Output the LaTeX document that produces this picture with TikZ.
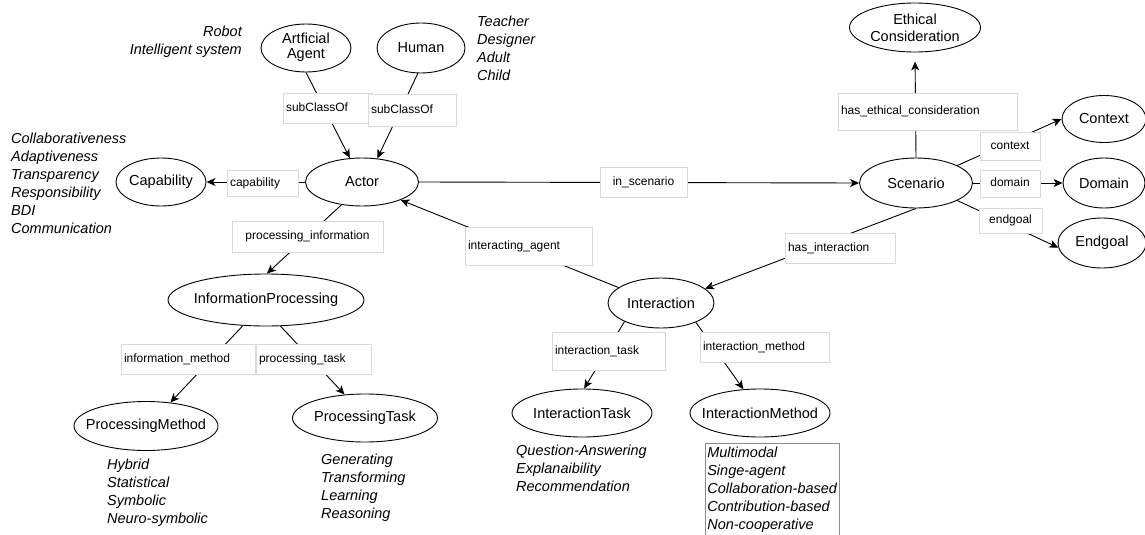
\documentclass[tikz,border=0pt]{standalone}
\usepackage{fontspec}
\setmainfont{Liberation Sans}
\usetikzlibrary{shapes.geometric,arrows.meta}
\newcommand\entfont{\fontsize{14.5}{17}\selectfont}
\newcommand\relfont{\fontsize{12}{14}\selectfont}
\newcommand\listfont{\fontsize{14.5}{18}\selectfont\itshape}
\newcommand\ztext[1]{\makebox[0pt]{#1}}
\begin{document}
\begin{tikzpicture}[x=1pt,y=-1pt,
  ent/.style 2 args={ellipse, draw, line width=0.9pt, inner sep=0pt, font=\entfont,
    minimum width=#1, minimum height=#2},
  rel/.style={draw=black!15, fill=white, font=\relfont, inner xsep=3pt, inner ysep=0pt,
    text height=9pt, text depth=3pt},
  lbl/.style 2 args={rel, text width=#1, minimum height=#2, align=left},
  lblc/.style 2 args={rel, minimum width=#1, minimum height=#2},
  items/.style={font=\listfont, inner sep=0pt},
  link/.style={line width=0.9pt},
  arr/.style={link, -{Stealth[length=9pt,width=8pt,inset=2.5pt]}}]
\useasboundingbox (0,0) rectangle (1145,535);

% classes
\node[ent={90pt}{48pt}] (aa) at (306,48) {\begin{tabular}{@{}c@{}}Artficial\\[-2pt]Agent\end{tabular}};
\node[ent={88pt}{50pt}] (hum) at (421,48) {Human};
\node[ent={113pt}{48pt}] (actor) at (362,182) {Actor};
\node[ent={88pt}{48pt}] (cap) at (161,182) {Capability};
\node[ent={113pt}{50pt}] (scen) at (916,183) {Scenario};
\node[ent={131pt}{49pt}, align=center] (eth) at (915,27.5) {Ethical\\Consideration};
\node[ent={84pt}{47pt}] (ctx) at (1104,119) {Context};
\node[ent={82pt}{50pt}] (dom) at (1104,183) {Domain};
\node[ent={88pt}{50pt}] (endg) at (1102,243) {Endgoal};
\node[ent={106pt}{50pt}] (inter) at (661,303) {Interaction};
\node[ent={140pt}{48pt}] (itask) at (582,413) {\ztext{InteractionTask}};
\node[ent={140pt}{48pt}] (imeth) at (760,413) {\ztext{InteractionMethod}};
\node[ent={196pt}{52pt}] (ip) at (266,300) {\ztext{InformationProcessing}};
\node[ent={144pt}{49pt}] (pm) at (146,426) {\ztext{ProcessingMethod}};
\node[ent={145pt}{48pt}] (pt) at (365,418) {\ztext{ProcessingTask}};

% relations
\draw[arr] (aa.south) -- (actor.117);
\draw[arr] (hum.-97) -- (actor.57);
\draw[arr] (actor.west) -- (cap.east);
\draw[arr] (actor.east) -- (scen.west);
\draw[arr, shorten >=9pt] (scen.north) -- (eth.south);
\draw[arr] (scen.23) -- (ctx.west);
\draw[arr] (scen.east) -- (dom.west);
\draw[arr] (scen.-23) -- (endg.186);
\draw[arr] (scen.south) -- (inter.18);
\draw[arr] (inter.160) -- (actor.-25);
\draw[arr] (inter.207) -- (itask.85);
\draw[arr] (inter.-29) -- (imeth.125);
\draw[arr] (actor.-132) -- (ip.88);
\draw[arr] (ip.-132) -- (pm.44);
\draw[arr] (ip.-61) -- (pt.131);

% relation labels
\node[lbl={83pt}{30pt}] (l-sub1) at (327.5,108) {subClassOf};
\node[lbl={82pt}{32pt}] (l-sub2) at (412,110) {subClassOf};
\node[lbl={65pt}{26pt}] (l-cap) at (262.5,183) {capability};
\node[lblc={87pt}{30pt}] (l-scen) at (643.5,182) {in\_scenario};
\node[lbl={173pt}{37pt}] (l-eth) at (927.5,111.5) {has\_ethical\_consideration};
\node[lblc={60pt}{28pt}] (l-ctx) at (1010,146) {context};
\node[lblc={60pt}{27pt}] (l-dom) at (1010,183.5) {domain};
\node[lblc={63pt}{25pt}] (l-end) at (1010.5,220.5) {endgoal};
\node[lbl={104pt}{30pt}] (l-hasi) at (840,248) {has\_interaction};
\node[lbl={121pt}{38pt}] (l-agent) at (528.5,246) {interacting\_agent};
\node[lbl={107pt}{38pt}] (l-itask) at (608.5,351) {interaction\_task};
\node[lbl={123pt}{30pt}] (l-imeth) at (764.5,347) {interaction\_method};
\node[lblc={151pt}{31pt}] (l-proc) at (307.5,236.5) {processing\_information};
\node[lbl={128pt}{30pt}] (l-infm) at (188,359) {information\_method};
\node[lbl={109pt}{30pt}] (l-proct) at (313.5,359) {processing\_task};

% instance lists
\node[items, anchor=north east, align=right] (aa-list) at (242,26) {Robot\\Intelligent system};
\node[items, anchor=north west, align=left] (hum-list) at (477,16) {Teacher\\Designer\\Adult\\Child};
\node[items, anchor=north west, align=left] (cap-list) at (11,133)
  {Collaborativeness\\Adaptiveness\\Transparency\\Responsibility\\BDI\\Communication};
\node[items, anchor=north west, align=left] (pm-list) at (107,459)
  {Hybrid\\Statistical\\Symbolic\\Neuro-symbolic};
\node[items, anchor=north west, align=left] (pt-list) at (321,454)
  {Generating\\Transforming\\Learning\\Reasoning};
\node[items, anchor=north west, align=left] (it-list) at (516,445)
  {Question-Answering\\Explanaibility\\Recommendation};
\node[items, draw=black!45, line width=0.6pt, inner xsep=2pt, inner ysep=4pt,
  anchor=north west, align=left] (im-list) at (705,443)
  {Multimodal\\Singe-agent\\Collaboration-based\\Contribution-based\\Non-cooperative};
\end{tikzpicture}
\end{document}
